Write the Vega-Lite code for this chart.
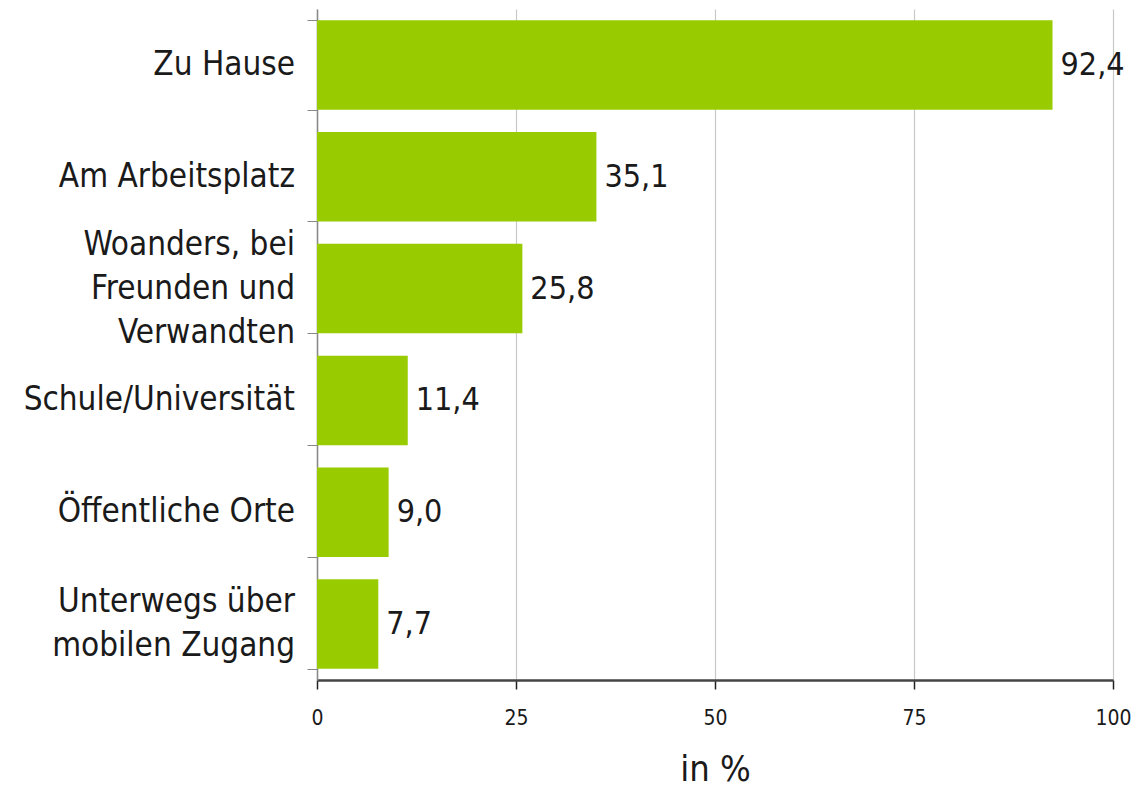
{
  "$schema": "https://vega.github.io/schema/vega-lite/v6.json",
  "autosize": "none",
  "width": 796,
  "height": 671,
  "padding": {"left": 317, "top": 9, "right": 24, "bottom": 107},
  "background": "white",
  "config": {
    "view": {"stroke": null},
    "locale": {"number": {"decimal": ",", "thousands": ".", "grouping": [3], "currency": ["", " €"]}},
    "font": "DejaVu Sans Condensed"
  },
  "data": {
    "values": [
      {"ort": "Zu Hause", "wert": 92.4},
      {"ort": "Am Arbeitsplatz", "wert": 35.1},
      {"ort": "Woanders, bei|Freunden und|Verwandten", "wert": 25.8},
      {"ort": "Schule/Universität", "wert": 11.4},
      {"ort": "Öffentliche Orte", "wert": 9.0},
      {"ort": "Unterwegs über|mobilen Zugang", "wert": 7.7}
    ]
  },
  "encoding": {
    "y": {
      "field": "ort", "type": "nominal", "sort": null,
      "scale": {"paddingInner": 0.2, "paddingOuter": 0.1},
      "axis": {
        "title": null,
        "labels": false,
        "tickBand": "extent",
        "tickColor": "#888",
        "tickSize": 10,
        "domainColor": "#888",
        "domainWidth": 1.5
      }
    },
    "x": {
      "field": "wert", "type": "quantitative",
      "scale": {"domain": [0, 100], "nice": false},
      "axis": {
        "title": "in %",
        "titleFont": "DejaVu Sans Condensed",
        "titleFontSize": 36,
        "titleFontWeight": "normal",
        "titleColor": "#1a1a1a",
        "titlePadding": 24,
        "values": [0, 25, 50, 75, 100],
        "labelFont": "DejaVu Sans Condensed",
        "labelFontSize": 21,
        "labelColor": "#1a1a1a",
        "labelPadding": 18,
        "labelFlush": false,
        "tickColor": "#222",
        "tickSize": 9,
        "tickWidth": 1.5,
        "domainColor": "#444",
        "domainWidth": 2.5,
        "grid": true,
        "gridColor": "#c8c8c8",
        "gridWidth": 1.2
      }
    }
  },
  "layer": [
    {"mark": {"type": "bar", "color": "#99cc00"}},
    {
      "mark": {"type": "text", "align": "left", "baseline": "middle", "dx": 8, "fontSize": 32, "font": "DejaVu Sans Condensed", "color": "#1a1a1a"},
      "encoding": {"text": {"field": "wert", "type": "quantitative", "format": ".1f"}}
    },
    {
      "mark": {
        "type": "text", "align": "right", "baseline": "middle", "dx": -22,
        "lineBreak": "|", "lineHeight": 44,
        "fontSize": 33, "font": "DejaVu Sans Condensed", "color": "#1a1a1a",
        "dy": {"expr": "indexof(datum.ort, 'Woanders') === 0 ? -44 : (indexof(datum.ort, 'Unterwegs') === 0 ? -22 : 0)"}
      },
      "encoding": {
        "x": {"datum": 0},
        "text": {"field": "ort", "type": "nominal"}
      }
    }
  ]
}
